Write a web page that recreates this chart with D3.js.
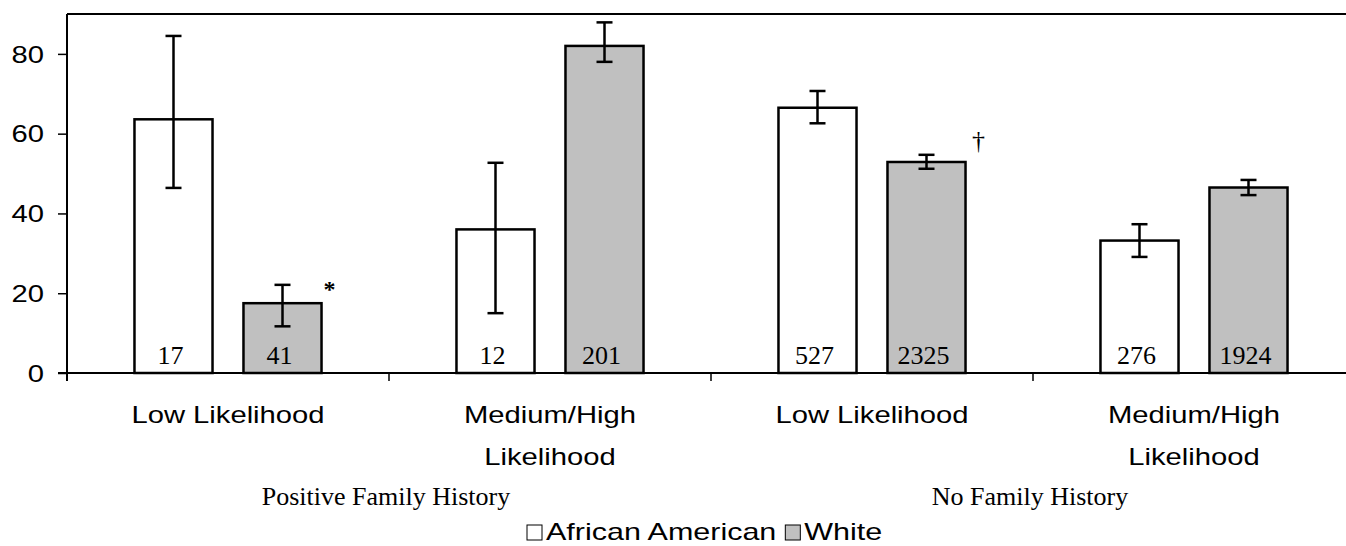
<!DOCTYPE html>
<html>
<head>
<meta charset="utf-8">
<script src="https://cdn.jsdelivr.net/npm/d3@7"></script>
<style>
  html, body { margin: 0; padding: 0; background: #fff; }
  svg { display: block; }
</style>
</head>
<body>
<svg id="chart" width="1346" height="546"></svg>
<script>
// ---- data ----
const categories = ["Low Likelihood", "Medium/High Likelihood", "Low Likelihood ", "Medium/High Likelihood "];
const categoryLines = [["Low Likelihood"], ["Medium/High", "Likelihood"], ["Low Likelihood"], ["Medium/High", "Likelihood"]];
const groups = ["Positive Family History", "No Family History"];
const series = ["African American", "White"];
const africanAmerican = [63.6, 36.0, 66.5, 33.2];
const africanAmericanLow = [46.4, 15.0, 62.6, 29.1];
const africanAmericanHigh = [84.5, 52.7, 70.7, 37.3];
const white = [17.5, 82.0, 52.9, 46.5];
const whiteLow = [11.7, 78.0, 51.2, 44.6];
const whiteHigh = [22.1, 87.9, 54.7, 48.4];
const africanAmericanN = ["17", "12", "527", "276"];
const whiteN = ["41", "201", "2325", "1924"];
const significance = ["*", "", "†", ""];
const yTicks = [0, 20, 40, 60, 80];

// ---- layout ----
const svg = d3.select("#chart");
const pLeft = 67, pRight = 1355, pTop = 14, pBottom = 373;
const SX = 1.27; // horizontal stretch of sans text in the original

const x = d3.scaleBand().domain(categories).range([pLeft, pRight]).padding(0);
const xs = d3.scaleBand().domain(series).range([0, x.bandwidth()]).paddingInner(0.284).paddingOuter(0.619);
const y = d3.scaleLinear().domain([0, 90]).range([pBottom, pTop]);
const fill = d3.scaleOrdinal().domain(series).range(["#ffffff", "#c0c0c0"]);

const rows = [];
categories.forEach((c, i) => {
  rows.push({cat: c, s: series[0], v: africanAmerican[i], lo: africanAmericanLow[i], hi: africanAmericanHigh[i], n: africanAmericanN[i], sig: ""});
  rows.push({cat: c, s: series[1], v: white[i], lo: whiteLow[i], hi: whiteHigh[i], n: whiteN[i], sig: significance[i]});
});

// top border
svg.append("line").attr("x1", pLeft).attr("x2", 1346).attr("y1", pTop).attr("y2", pTop)
  .attr("stroke", "#000").attr("stroke-width", 2);

// bars
const g = svg.append("g");
g.selectAll("rect.bar").data(rows).join("rect")
  .attr("class", "bar")
  .attr("x", d => x(d.cat) + xs(d.s))
  .attr("y", d => y(d.v))
  .attr("width", xs.bandwidth())
  .attr("height", d => y(0) - y(d.v))
  .attr("fill", d => fill(d.s))
  .attr("stroke", "#000").attr("stroke-width", 2.5);

// error bars
const cx = d => x(d.cat) + xs(d.s) + xs.bandwidth() / 2;
g.selectAll("line.err").data(rows).join("line")
  .attr("class", "err")
  .attr("x1", cx).attr("x2", cx)
  .attr("y1", d => y(d.lo)).attr("y2", d => y(d.hi))
  .attr("stroke", "#000").attr("stroke-width", 2.5);
["lo", "hi"].forEach(k => {
  g.selectAll("line.cap" + k).data(rows).join("line")
    .attr("class", "cap" + k)
    .attr("x1", d => cx(d) - 8).attr("x2", d => cx(d) + 8)
    .attr("y1", d => y(d[k])).attr("y2", d => y(d[k]))
    .attr("stroke", "#000").attr("stroke-width", 2.5);
});

// n labels
g.selectAll("text.n").data(rows).join("text")
  .attr("class", "n")
  .attr("x", d => cx(d) - 3).attr("y", y(0) - 9)
  .attr("text-anchor", "middle")
  .attr("font-family", "'Liberation Serif', 'Times New Roman', serif")
  .attr("font-size", 26)
  .text(d => d.n);

// significance markers
g.selectAll("text.sig").data(rows.filter(d => d.sig)).join("text")
  .attr("class", "sig")
  .attr("x", d => x(d.cat) + xs(d.s) + xs.bandwidth() + (d.sig === "*" ? 8 : 13))
  .attr("y", d => d.sig === "*" ? y(d.hi) + 12 : y(d.hi) - 6)
  .attr("text-anchor", "middle")
  .attr("font-family", "'Liberation Serif', serif")
  .attr("font-size", d => d.sig === "*" ? 24 : 26)
  .attr("font-weight", d => d.sig === "*" ? "bold" : "normal")
  .text(d => d.sig);

// y axis
const yAxis = d3.axisLeft(y).tickValues(yTicks).tickSize(9).tickPadding(14).tickFormat(d3.format("d"));
const ya = svg.append("g").attr("transform", `translate(${pLeft},0)`).call(yAxis);
ya.select(".domain").attr("d", `M0,${pTop}V${pBottom + 8}`).attr("stroke-width", 2);
ya.selectAll(".tick line").attr("stroke-width", 1.5);
ya.selectAll(".tick text")
  .attr("font-family", "'Liberation Sans', Arial, sans-serif")
  .attr("font-size", 23).attr("fill", "#000")
  .attr("dy", "0.36em")
  .attr("transform", function() { const xx = +d3.select(this).attr("x"); return `translate(${xx},0) scale(${SX},1) translate(${-xx},0)`; });

// x axis
const xa = svg.append("g").attr("transform", `translate(0,${pBottom})`);
xa.append("line").attr("x1", pLeft - 9).attr("x2", 1346).attr("y1", 0).attr("y2", 0)
  .attr("stroke", "#000").attr("stroke-width", 2);
const boundaries = categories.slice(1).map(c => x(c));
xa.selectAll("line.tick").data(boundaries).join("line")
  .attr("class", "tick")
  .attr("x1", d => d).attr("x2", d => d).attr("y1", 0).attr("y2", 8)
  .attr("stroke", "#000").attr("stroke-width", 1.5);

// category labels
categories.forEach((c, i) => {
  const mx = x(c) + x.bandwidth() / 2;
  categoryLines[i].forEach((line, j) => {
    svg.append("text")
      .attr("transform", `translate(${mx},${423 + j * 42}) scale(${SX},1)`)
      .attr("text-anchor", "middle")
      .attr("font-family", "'Liberation Sans', Arial, sans-serif")
      .attr("font-size", 23)
      .text(line);
  });
});

// group labels
groups.forEach((gname, i) => {
  const gx = x(categories[i * 2 + 1]);
  svg.append("text")
    .attr("x", gx - 3).attr("y", 505)
    .attr("text-anchor", "middle")
    .attr("font-family", "'Liberation Serif', 'Times New Roman', serif")
    .attr("font-size", 26)
    .text(gname);
});

// legend
const legend = svg.append("g").attr("transform", "translate(527,0)");
let lx = 0;
series.forEach((s, i) => {
  legend.append("rect").attr("x", lx).attr("y", 525).attr("width", 15).attr("height", 15)
    .attr("fill", fill(s)).attr("stroke", "#000").attr("stroke-width", 1);
  const t = legend.append("text")
    .attr("transform", `translate(${lx + 19},540) scale(${SX},1)`)
    .attr("font-family", "'Liberation Sans', Arial, sans-serif")
    .attr("font-size", 24)
    .text(s);
  const w = t.node().getComputedTextLength() * SX;
  lx += 19 + w + 9;
});
</script>
</body>
</html>
